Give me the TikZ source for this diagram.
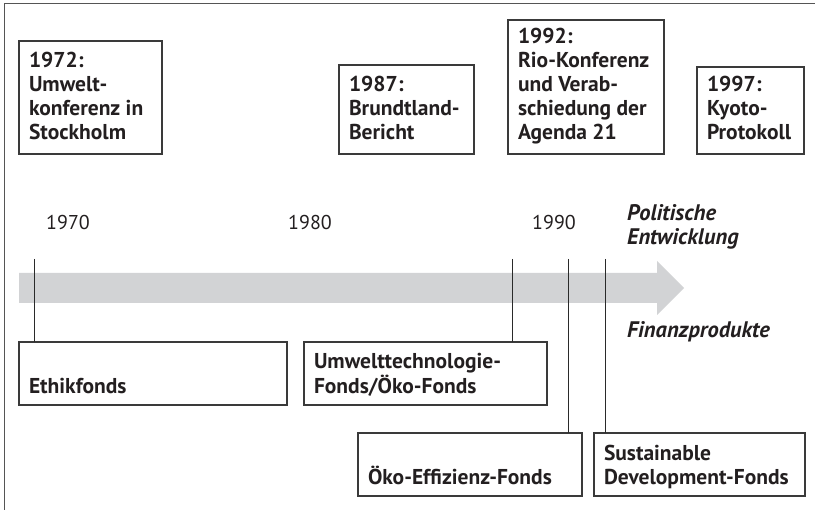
\documentclass[tikz,border=0pt]{standalone}
\usepackage{fontspec}
\setmainfont{PT Sans}
\definecolor{txt}{HTML}{231F20}
\definecolor{boxcol}{HTML}{3A3A3A}
\definecolor{framecol}{HTML}{555555}
\definecolor{arrowcol}{HTML}{D2D3D5}
\definecolor{conncol}{HTML}{2A2A2A}
\newcommand\bt[4]{\parbox[t][#1pt][b]{#2pt}{\begin{tabular}[b]{@{}l@{}}#4\end{tabular}\par\vspace{#3pt}}}
\begin{document}
\begin{tikzpicture}[x=1pt,y=-1pt,
  box/.style={draw=boxcol, line width=1.1pt, inner xsep=10pt, inner ysep=0pt, outer sep=0pt,
    anchor=north west, text=txt, font=\bfseries\fontsize{21.5}{24}\selectfont},
  yearlbl/.style={inner sep=0pt, anchor=base west, text=txt, font=\fontsize{20}{24}\selectfont},
  side/.style={inner sep=0pt, anchor=base west, text=txt, font=\bfseries\itshape\fontsize{22.5}{24}\selectfont},
  conn/.style={draw=conncol, line width=0.9pt}]
\useasboundingbox (0,0) rectangle (815,510);
\draw[framecol, line width=1.6pt] (4.5,510) -- (4.5,3.5) -- (815,3.5);

% timeline arrow
\fill[arrowcol] (19,273) -- (657,273) -- (657,261) -- (684,288) -- (657,315) -- (657,303) -- (19,303) -- cycle;

% top boxes (politics)
\node[box] (p72) at (19,41) {\bt{113}{123}{6.8}{1972:\\Umwelt-\\konferenz in\\Stockholm}};
\node[box] (p87) at (339,65) {\bt{89}{115}{6.8}{1987:\\Brundtland-\\Bericht}};
\node[box] (p92) at (508,20) {\bt{134}{136}{6.8}{1992:\\Rio-Konferenz\\und Verab-\\schiedung der\\Agenda 21}};
\node[box] (p97) at (697,67) {\bt{87}{87}{6.8}{1997:\\Kyoto-\\Protokoll}};

% years
\node[yearlbl] (y70) at (46,230) {1970};
\node[yearlbl] (y80) at (288,230) {1980};
\node[yearlbl] (y90) at (532,230) {1990};

% side labels
\node[side] (pol) at (627,221) {\begin{tabular}[t]{@{}l@{}}Politische\\Entwicklung\end{tabular}};
\node[side] (fin) at (627,338) {Finanzprodukte};

% bottom boxes (financial products)
\node[box] (f1) at (19,342) {\bt{63}{248}{4.0}{Ethikfonds}};
\node[box] (f2) at (304,342) {\bt{63}{223}{4.0}{Umwelttechnologie-\\Fonds/Öko-Fonds}};
\node[box] (f3) at (358,433) {\bt{63}{204}{4.5}{Öko-Effizienz-Fonds}};
\node[box] (f4) at (594,433) {\bt{63}{191}{4.5}{Sustainable\\Development-Fonds}};

% connectors
\coordinate (c1) at (34,259);
\coordinate (c2) at (512,259);
\coordinate (c3) at (568,259);
\coordinate (c4) at (605,259);
\draw[conn] (c1) -- (c1 |- f1.north);
\draw[conn] (c2) -- (c2 |- f2.north);
\draw[conn] (c3) -- (c3 |- f3.north);
\draw[conn] (c4) -- (c4 |- f4.north);
\end{tikzpicture}
\end{document}
